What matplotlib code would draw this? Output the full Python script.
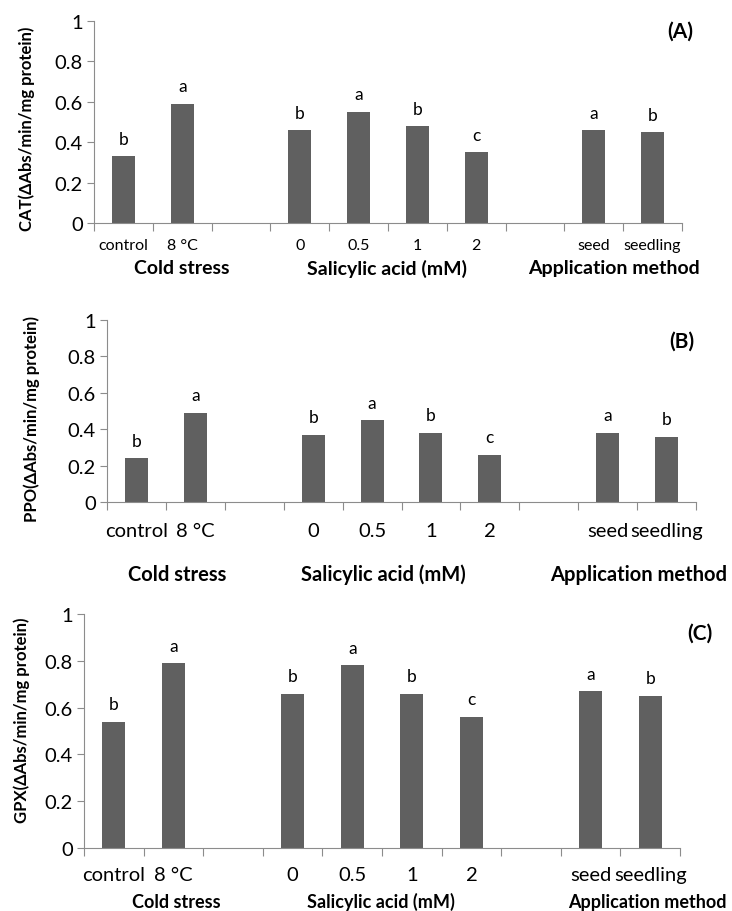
import matplotlib
matplotlib.use("Agg")
import matplotlib.pyplot as plt
import numpy as np

plt.rcParams['font.family'] = ['Lato', 'DejaVu Sans']

### data ###
slots = ['control', '8 °C', '', '0', '0.5', '1', '2', '', 'seed', 'seedling']
groups = ['Cold stress', 'Salicylic acid (mM)', 'Application method']

cat_vals = [0.33, 0.59, 0.46, 0.55, 0.48, 0.35, 0.46, 0.45]
ppo_vals = [0.24, 0.49, 0.37, 0.45, 0.38, 0.26, 0.38, 0.36]
gpx_vals = [0.54, 0.79, 0.66, 0.78, 0.66, 0.56, 0.67, 0.65]
letters = ['b', 'a', 'b', 'a', 'b', 'c', 'a', 'b']

ylabels = ['CAT(ΔAbs/min/mg protein)', 'PPO(ΔAbs/min/mg protein)', 'GPX(ΔAbs/min/mg protein)']
panel_tags = ['(A)', '(B)', '(C)']

bar_color = '#606060'
axis_color = '#8c8c8c'

fig = plt.figure(figsize=(7.32, 9.12), dpi=100)

# axes rects and label placement per panel (figure fraction / axes fraction)
rects = [(0.1284, 0.7544, 0.8033, 0.2215),
         (0.1462, 0.4481, 0.8046, 0.2003),
         (0.1148, 0.0691, 0.8142, 0.2566)]
cat_y = [-0.11, -0.152, -0.114]
cat_fs = [11.5, 14.5, 14.5]
grp_y = [-0.222, -0.392, -0.228]
grp_x = [[0.150, 0.498, 0.885], [0.119, 0.469, 0.903], [0.155, 0.498, 0.945]]
grp_fs = [14, 14.5, 13]
tag_pos = [(1.019, 0.95), (0.997, 0.883), (1.054, 0.919)]
ylab_xy = [(0.037, 0.8586), (0.044, 0.5406), (0.030, 0.2105)]

xpos = np.arange(len(slots))
filled = [i for i, s in enumerate(slots) if s != '']

for k, vals in enumerate([cat_vals, ppo_vals, gpx_vals]):
    ax = fig.add_axes(rects[k])
    bars = ax.bar(xpos[filled], vals, width=0.39, color=bar_color, zorder=2)
    for b, lt in zip(bars, letters):
        ax.annotate(lt, (b.get_x() + b.get_width() / 2, b.get_height()),
                    xytext=(0, 9), textcoords='offset points',
                    ha='center', va='baseline', fontsize=12.5)

    ax.set_xlim(-0.5, len(slots) - 0.5)
    ax.set_ylim(0, 1)
    ax.set_yticks(np.arange(0, 1.01, 0.2))
    ax.set_yticklabels(['0', '0.2', '0.4', '0.6', '0.8', '1'], fontsize=14.5)
    ax.set_xticks(np.arange(-0.5, len(slots), 1))
    ax.set_xticklabels([])
    ax.tick_params(axis='x', length=6, color=axis_color, direction='out')
    ax.tick_params(axis='y', length=5, color=axis_color, direction='out', pad=3)
    for sp in ['top', 'right']:
        ax.spines[sp].set_visible(False)
    for sp in ['left', 'bottom']:
        ax.spines[sp].set_color(axis_color)

    # category labels
    for i, s in enumerate(slots):
        if s:
            ax.text(i, cat_y[k], s, transform=ax.get_xaxis_transform(),
                    ha='center', va='center', fontsize=cat_fs[k])
    # group labels
    for gx, g in zip(grp_x[k], groups):
        ax.text(gx, grp_y[k], g, transform=ax.transAxes, ha='center', va='center',
                fontsize=grp_fs[k], fontweight='bold')

    ax.text(tag_pos[k][0], tag_pos[k][1], panel_tags[k], transform=ax.transAxes,
            ha='right', va='center', fontsize=15, fontweight='bold')

    fig.text(ylab_xy[k][0], ylab_xy[k][1], ylabels[k], rotation=90, ha='center',
             va='center', fontsize=12, fontweight='bold')

fig.savefig('out.png', dpi=100)
